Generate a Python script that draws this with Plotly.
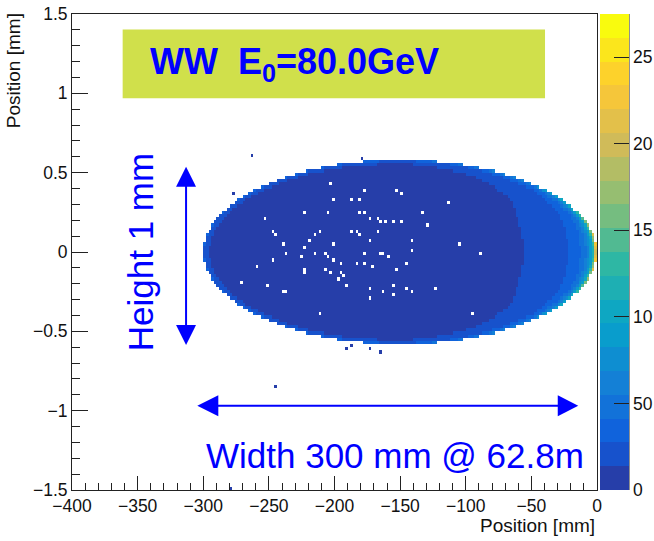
import numpy as np
import plotly.graph_objects as go

# ---------------------------------------------------------------------------
# Histogram binning: 200 x 150 cells of 2 mm x 0.02 mm
# ---------------------------------------------------------------------------
X_EDGES = np.linspace(-400.0, 0.0, 201)
Y_EDGES = np.linspace(-1.5, 1.5, 151)

# Elliptical footprint of the hit distribution
SPOT_CENTER_X = -150.0
SPOT_HALF_WIDTH = 150.0
SPOT_HALF_HEIGHT = 0.58

# Hit density along the horizontal position (counts per bin, spot centre line)
COLUMN_X = [-300, -200, -150, -110, -80, -50, -30, -15, -5, 0]
COLUMN_GAIN = [0.50, 0.55, 0.65, 0.80, 1.00, 1.30, 1.75, 2.30, 3.20, 4.20]

# Enhancement towards the edge of the footprint (normalised elliptical radius)
SHELL_R = [0.0, 0.5, 0.8, 0.9, 0.95, 0.98, 1.0]
SHELL_GAIN = [1.0, 1.05, 1.2, 1.5, 2.0, 3.2, 6.0]

# Empty bins inside the footprint
EMPTY_X = [-203.0, -177.5, -153.7, -149.6, -201.4, -187.2, -181.3, -114.0, -223.7, -205.7,
           -181.3, -177.5, -133.3, -253.2, -173.5, -167.6, -165.3, -161.5, -155.7, -149.9,
           -129.8, -187.4, -247.6, -245.8, -211.6, -215.4, -183.4, -181.3, -167.6, -219.2,
           -239.5, -201.4, -173.5, -142.0, -223.7, -237.5, -142.0, -225.3, -215.4, -207.5,
           -205.7, -201.4, -177.5, -165.3, -163.6, -158.5, -247.6, -183.4, -177.5, -145.8,
           -195.6, -259.8, -223.7, -171.7, -153.7, -223.7, -207.5, -203.0, -195.6, -193.5,
           -197.3, -271.8, -251.4, -191.5, -155.7, -173.5, -145.8, -142.0, -123.7, -163.6,
           -240.0, -236.4, -155.7, -173.5, -211.6, -105.1, -89.1, -95.5]
EMPTY_Y = [0.427, 0.391, 0.391, 0.366, 0.332, 0.332, 0.332, 0.317, 0.258, 0.258,
           0.258, 0.244, 0.244, 0.210, 0.210, 0.210, 0.195, 0.195, 0.195, 0.195,
           0.168, 0.139, 0.122, 0.107, 0.122, 0.105, 0.122, 0.105, 0.122, 0.061,
           0.046, 0.046, 0.061, 0.076, 0.029, 0.000, 0.015, -0.021, -0.017, -0.017,
           -0.034, -0.044, -0.017, 0.000, 0.000, -0.034, -0.044, -0.078, -0.061, -0.061,
           -0.078, -0.092, -0.105, -0.092, -0.105, -0.134, -0.118, -0.134, -0.120, -0.151,
           -0.166, -0.183, -0.200, -0.200, -0.200, -0.227, -0.227, -0.242, -0.227, -0.242,
           -0.258, -0.258, -0.273, -0.298, -0.380, 0.046, -0.019, -0.395]

# Isolated single hits outside the footprint
STRAY_X = [-263.6, -179.3, -277.9, -192.0, -187.2, -173.5, -165.3, -245.3, -279.6]
STRAY_Y = [0.607, 0.590, 0.366, -0.603, -0.590, -0.603, -0.632, -0.843, -1.496]
STRAY_COUNT = 1.0

# Colour axis
Z_MAX = 27.5
N_CONTOURS = 20
CBAR_TICKS = [0, 5, 10, 15, 20, 25]
CBAR_TICKTEXT = ["0", "50", "10", "15", "20", "25"]

# ---------------------------------------------------------------------------
# Fill the 2-D histogram
# ---------------------------------------------------------------------------
xc = 0.5 * (X_EDGES[:-1] + X_EDGES[1:])
yc = 0.5 * (Y_EDGES[:-1] + Y_EDGES[1:])
XX, YY = np.meshgrid(xc, yc)
r = np.sqrt(((XX - SPOT_CENTER_X) / SPOT_HALF_WIDTH) ** 2 + (YY / SPOT_HALF_HEIGHT) ** 2)
z = np.interp(XX, COLUMN_X, COLUMN_GAIN) * np.interp(np.clip(r, 0, 1), SHELL_R, SHELL_GAIN)
z = np.where(r <= 1.0, np.minimum(z, Z_MAX - 0.5), np.nan)

dx = X_EDGES[1] - X_EDGES[0]
dy = Y_EDGES[1] - Y_EDGES[0]


def bin_index(x, y):
    ix = int(np.clip(np.floor((x - X_EDGES[0]) / dx), 0, len(xc) - 1))
    iy = int(np.clip(np.floor((y - Y_EDGES[0]) / dy), 0, len(yc) - 1))
    return iy, ix


for ex, ey in zip(EMPTY_X, EMPTY_Y):
    z[bin_index(ex, ey)] = np.nan
for sx, sy in zip(STRAY_X, STRAY_Y):
    z[bin_index(sx, sy)] = STRAY_COUNT

# ROOT "bird" palette, split into discrete contour bands
BIRD_STOPS = [0.0, 0.125, 0.25, 0.375, 0.5, 0.625, 0.75, 0.875, 1.0]
BIRD_R = [0.2082, 0.0592, 0.0780, 0.0232, 0.1802, 0.5301, 0.8186, 0.9956, 0.9764]
BIRD_G = [0.1664, 0.3599, 0.5041, 0.6419, 0.7178, 0.7492, 0.7328, 0.7862, 0.9832]
BIRD_B = [0.5293, 0.8684, 0.8385, 0.7914, 0.6425, 0.4662, 0.3499, 0.1968, 0.0539]


def bird(t):
    return "rgb({:d},{:d},{:d})".format(
        int(round(255 * np.interp(t, BIRD_STOPS, BIRD_R))),
        int(round(255 * np.interp(t, BIRD_STOPS, BIRD_G))),
        int(round(255 * np.interp(t, BIRD_STOPS, BIRD_B))),
    )


colorscale = []
for i in range(N_CONTOURS):
    c = bird(min((i + 0.99) / N_CONTOURS, 1.0))
    colorscale.append([i / N_CONTOURS, c])
    colorscale.append([(i + 1) / N_CONTOURS, c])

FONT = "Liberation Sans, Arial, Helvetica, sans-serif"
INK = "#0000ff"
AXIS = "#222222"

fig = go.Figure()
fig.add_trace(
    go.Heatmap(
        x=xc,
        y=yc,
        z=z,
        zmin=0,
        zmax=Z_MAX,
        colorscale=colorscale,
        zsmooth=False,
        hoverongaps=False,
        colorbar=dict(
            x=1.0 + 3 / 525,
            xanchor="left",
            xpad=0,
            ypad=0,
            y=0.5,
            len=1.0,
            thickness=29,
            outlinewidth=0,
            ticks="inside",
            ticklen=15,
            tickwidth=1,
            tickcolor=AXIS,
            tickvals=CBAR_TICKS,
            ticktext=CBAR_TICKTEXT,
            tickfont=dict(family=FONT, size=17.5, color="#111"),
        ),
    )
)

# Annotation arrows (line + filled heads)
V_ARROW_X = -313.1
H_ARROW_Y = -0.969
shapes = [
    # title box
    dict(type="rect", xref="x", yref="y", x0=-361.4, x1=-39.6, y0=0.969, y1=1.403,
         fillcolor="#d0e04b", line=dict(width=0), layer="above"),
    # vertical double arrow
    dict(type="line", xref="x", yref="y", x0=V_ARROW_X, x1=V_ARROW_X, y0=-0.47, y1=0.43,
         line=dict(color=INK, width=2)),
    dict(type="path", xref="x", yref="y",
         path=f"M {V_ARROW_X} 0.538 L {V_ARROW_X - 7.6} 0.412 L {V_ARROW_X + 7.6} 0.412 Z",
         fillcolor=INK, line=dict(width=0)),
    dict(type="path", xref="x", yref="y",
         path=f"M {V_ARROW_X} -0.586 L {V_ARROW_X - 7.6} -0.460 L {V_ARROW_X + 7.6} -0.460 Z",
         fillcolor=INK, line=dict(width=0)),
    # horizontal double arrow
    dict(type="line", xref="x", yref="y", x0=-290, x1=-29, y0=H_ARROW_Y, y1=H_ARROW_Y,
         line=dict(color=INK, width=2)),
    dict(type="path", xref="x", yref="y",
         path=f"M -304.5 {H_ARROW_Y} L -288.5 {H_ARROW_Y + 0.066} L -288.5 {H_ARROW_Y - 0.066} Z",
         fillcolor=INK, line=dict(width=0)),
    dict(type="path", xref="x", yref="y",
         path=f"M -14.3 {H_ARROW_Y} L -29.9 {H_ARROW_Y + 0.066} L -29.9 {H_ARROW_Y - 0.066} Z",
         fillcolor=INK, line=dict(width=0)),
    # palette axis line
    dict(type="line", xref="paper", yref="paper", x0=1.0 + 32 / 525, x1=1.0 + 32 / 525,
         y0=0, y1=1, line=dict(color=AXIS, width=1)),
]

annotations = [
    dict(text="<b>WW  E<sub>0</sub>=80.0GeV</b>", x=-342, y=1.185, xref="x", yref="y",
         xanchor="left", yanchor="middle", showarrow=False,
         font=dict(family=FONT, size=36, color=INK)),
    dict(text="Height 1 mm", x=-348.0, y=0.0, xref="x", yref="y", textangle=-90,
         xanchor="center", yanchor="middle", showarrow=False,
         font=dict(family=FONT, size=35, color=INK)),
    dict(text="Width 300 mm @ 62.8m", x=-153.9, y=-1.28, xref="x", yref="y",
         xanchor="center", yanchor="middle", showarrow=False,
         font=dict(family=FONT, size=35, color=INK)),
    dict(text="Position [mm]", x=1.0, y=-0.074, xref="paper", yref="paper",
         xanchor="right", yanchor="middle", showarrow=False,
         font=dict(family=FONT, size=19, color="#111")),
    dict(text="Position [mm]", x=-0.1124, y=0.882, xref="paper", yref="paper",
         textangle=-90, xanchor="center", yanchor="middle", showarrow=False,
         font=dict(family=FONT, size=19, color="#111")),
]

fig.update_layout(
    width=654,
    height=541,
    margin=dict(l=72, r=57, t=14, b=51, autoexpand=False),
    paper_bgcolor="white",
    plot_bgcolor="white",
    shapes=shapes,
    annotations=annotations,
    showlegend=False,
)
fig.update_xaxes(
    range=[-400, 0],
    tickvals=list(range(-400, 1, 50)),
    ticktext=["\u2212" + str(abs(v)) if v < 0 else str(v) for v in range(-400, 1, 50)],
    ticks="inside",
    ticklen=14,
    tickwidth=1,
    tickcolor=AXIS,
    minor=dict(dtick=10, tick0=0, ticks="inside", ticklen=7, tickcolor=AXIS),
    showgrid=False,
    zeroline=False,
    showline=True,
    linecolor=AXIS,
    linewidth=1,
    mirror=True,
    tickfont=dict(family=FONT, size=17.5, color="#111"),
)
fig.update_yaxes(
    range=[-1.5, 1.5],
    tickvals=[-1.5, -1, -0.5, 0, 0.5, 1, 1.5],
    ticktext=["\u22121.5", "\u22121", "\u22120.5", "0", "0.5", "1", "1.5"],
    ticks="inside",
    ticklen=16,
    tickwidth=1,
    tickcolor=AXIS,
    minor=dict(dtick=0.1, tick0=0, ticks="inside", ticklen=8, tickcolor=AXIS),
    showgrid=False,
    zeroline=False,
    showline=True,
    linecolor=AXIS,
    linewidth=1,
    mirror=True,
    tickfont=dict(family=FONT, size=17.5, color="#111"),
)

fig.write_html("out.html")
